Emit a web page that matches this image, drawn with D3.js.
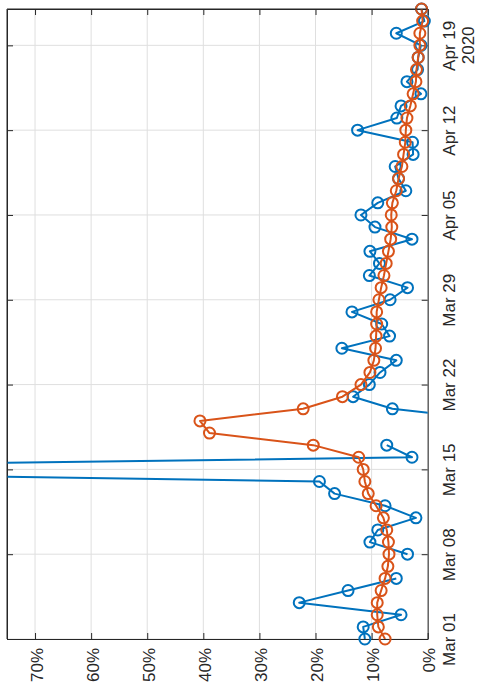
<!DOCTYPE html>
<html>
<head>
<meta charset="utf-8">
<script src="https://cdn.jsdelivr.net/npm/d3@7"></script>
<style>
  html, body { margin: 0; padding: 0; background: #fff; }
  svg { display: block; }
  text { font-family: "Liberation Sans", Arial, Helvetica, sans-serif; fill: #262626; }
</style>
</head>
<body>
<svg id="chart" width="478" height="692"></svg>
<script>
// Daily dates, 1 Mar – 22 Apr 2020
const startDate = new Date(2020, 2, 1);
const endDate = new Date(2020, 3, 22);
const days = d3.timeDay.range(startDate, d3.timeDay.offset(endDate, 1));

// Daily growth rate, % (null = no value that day)
const dailyGrowth = [
  11.2, 11.5, 4.75, 22.9, 14.2, 5.6, null, 3.6, 10.3, 8.9,
  2.1, 7.6, 16.6, 19.3, 160, 2.8, 7.3, null, -13, 6.3,
  13.3, 10.4, 8.5, 5.6, 15.3, 6.8, 8.2, 13.5, 6.7, 3.6,
  10.4, 8.6, 10.3, 2.8, 9.4, 11.9, 8.9, 3.9, 5.2, 5.8,
  2.6, 2.7, 12.5, 5.5, 4.75, 1.2, 3.7, 1.8, 1.7, 1.2,
  5.6, 0.6, 1.1
];

// Smoothed growth rate, %
const smoothedGrowth = [
  7.6, 8.8, 9.0, 9.0, 8.3, 7.6, 7.1, 6.9, 7.0, 7.3,
  7.9, 9.2, 10.6, 11.2, 11.5, 12.3, 20.4, 38.9, 40.6, 22.2,
  15.2, 11.9, 10.3, 9.6, 9.3, 9.2, 9.1, 9.1, 8.7, 8.3,
  7.8, 7.4, 7.0, 6.6, 6.4, 6.5, 6.3, 5.6, 5.2, 4.6,
  4.3, 4.0, 3.9, 3.7, 3.1, 2.6, 2.1, 2.0, 1.7, 1.4,
  1.4, 0.9, 1.1
];

// Axis ticks
const dateTicks = [
  new Date(2020, 2, 1), new Date(2020, 2, 8), new Date(2020, 2, 15),
  new Date(2020, 2, 22), new Date(2020, 2, 29), new Date(2020, 3, 5),
  new Date(2020, 3, 12), new Date(2020, 3, 19)
];
const pctTicks = [0, 10, 20, 30, 40, 50, 60, 70];
const yearLabel = "2020";

const colors = { daily: "#0072BD", smooth: "#D95319", axis: "#262626", grid: "#dfdfdf" };

const svg = d3.select("#chart");
const plot = { left: 7, right: 427.7, top: 9, bottom: 639 };

// Percent runs right-to-left along the bottom, dates run bottom-to-top
const x = d3.scaleLinear().domain([75, 0]).range([plot.left, plot.right]);
const y = d3.scaleTime().domain([startDate, endDate]).range([plot.bottom, plot.top]);

// Grid
const grid = svg.append("g").attr("stroke", colors.grid).attr("stroke-width", 1);
grid.selectAll("line.v").data(pctTicks).join("line")
  .attr("x1", d => x(d)).attr("x2", d => x(d))
  .attr("y1", plot.top).attr("y2", plot.bottom);
grid.selectAll("line.h").data(dateTicks).join("line")
  .attr("y1", d => y(d)).attr("y2", d => y(d))
  .attr("x1", plot.left).attr("x2", plot.right);

// Axes
const fmtDate = d3.timeFormat("%b %d");
const fmtPct = d => d + "%";

const styleAxis = g => {
  g.select(".domain").attr("stroke", colors.axis);
  g.selectAll(".tick line").attr("stroke", colors.axis);
};

const bottomAxis = svg.append("g")
  .attr("transform", `translate(0,${plot.bottom})`)
  .call(d3.axisBottom(x).tickValues(pctTicks).tickFormat(fmtPct).tickSizeInner(-6).tickSizeOuter(0))
  .call(styleAxis);
bottomAxis.selectAll(".tick text")
  .attr("x", 0).attr("y", 0).attr("dy", null)
  .attr("text-anchor", "end")
  .attr("font-size", 17)
  .attr("transform", "translate(7,9) rotate(-90)");

svg.append("g")
  .attr("transform", `translate(0,${plot.top})`)
  .call(d3.axisTop(x).tickValues(pctTicks).tickFormat("").tickSizeInner(-6).tickSizeOuter(0))
  .call(styleAxis);

const rightAxis = svg.append("g")
  .attr("transform", `translate(${plot.right},0)`)
  .call(d3.axisRight(y).tickValues(dateTicks).tickFormat(fmtDate).tickSizeInner(-6).tickSizeOuter(0))
  .call(styleAxis);
rightAxis.selectAll(".tick text")
  .attr("x", 0).attr("y", 0).attr("dy", null)
  .attr("text-anchor", "middle")
  .attr("font-size", 17)
  .attr("transform", "translate(27,0) rotate(-90)");

// Year under the last date label
const lastTick = dateTicks[dateTicks.length - 1];
svg.append("text")
  .attr("text-anchor", "middle")
  .attr("font-size", 17)
  .attr("transform", `translate(${plot.right + 46.5},${y(lastTick)}) rotate(-90)`)
  .text(yearLabel);

svg.append("g")
  .attr("transform", `translate(${plot.left},0)`)
  .call(d3.axisLeft(y).tickValues(dateTicks).tickFormat("").tickSizeInner(-6).tickSizeOuter(0))
  .call(styleAxis);

// Series
svg.append("clipPath").attr("id", "plot-clip")
  .append("rect")
  .attr("x", plot.left).attr("y", plot.top)
  .attr("width", plot.right - plot.left).attr("height", plot.bottom - plot.top);

const line = d3.line()
  .defined(d => d.v != null)
  .x(d => x(d.v))
  .y(d => y(d.date));

function drawSeries(values, color) {
  const pts = values.map((v, i) => ({ date: days[i], v }));
  svg.append("path")
    .datum(pts)
    .attr("clip-path", "url(#plot-clip)")
    .attr("fill", "none")
    .attr("stroke", color)
    .attr("stroke-width", 2)
    .attr("stroke-linejoin", "round")
    .attr("d", line);
  const [hi, lo] = x.domain();
  svg.append("g")
    .selectAll("circle")
    .data(pts.filter(d => d.v != null && d.v >= lo && d.v <= hi))
    .join("circle")
    .attr("cx", d => x(d.v))
    .attr("cy", d => y(d.date))
    .attr("r", 5.5)
    .attr("fill", "none")
    .attr("stroke", color)
    .attr("stroke-width", 2);
}

drawSeries(dailyGrowth, colors.daily);
drawSeries(smoothedGrowth, colors.smooth);

// Box edges on the remaining sides
svg.append("line")
  .attr("x1", plot.left).attr("x2", plot.left)
  .attr("y1", plot.top).attr("y2", plot.bottom)
  .attr("stroke", colors.axis);
svg.append("line")
  .attr("x1", plot.left).attr("x2", plot.right)
  .attr("y1", plot.top).attr("y2", plot.top)
  .attr("stroke", colors.axis);
</script>
</body>
</html>
